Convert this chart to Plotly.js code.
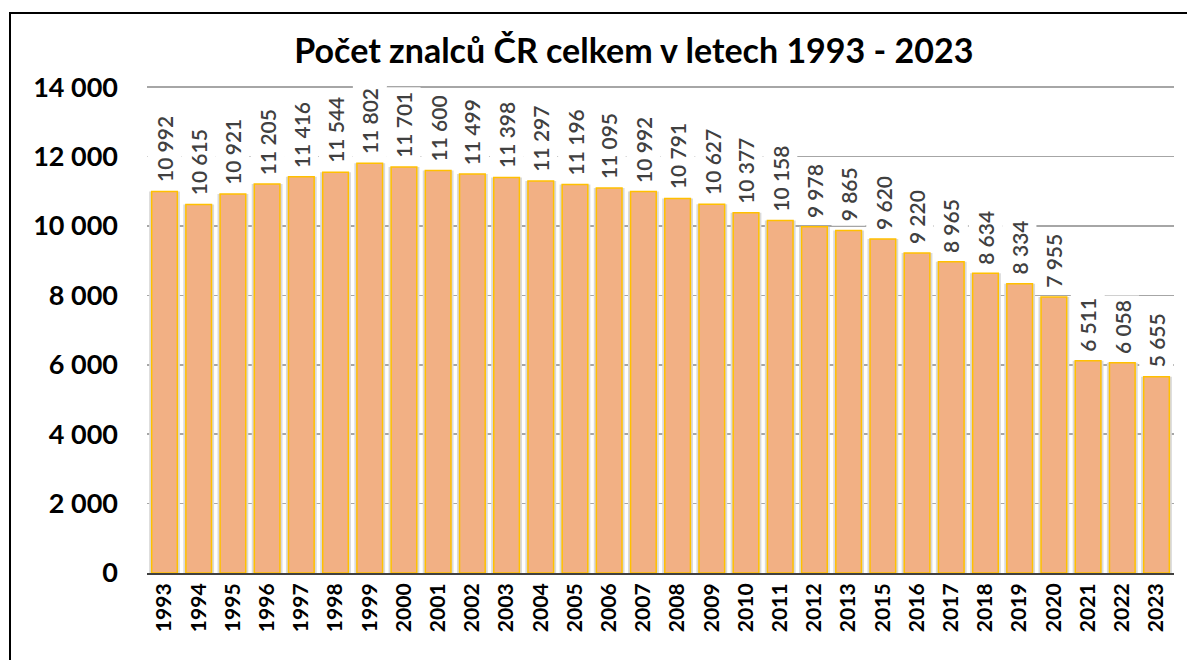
<!DOCTYPE html>
<html>
<head>
<meta charset="utf-8">
<script src="https://cdn.plot.ly/plotly-3.0.1.min.js"></script>
<style>
  body { margin: 0; background: #fff; }
  #plot { width: 1187px; height: 660px; }
  #frame {
    position: absolute; left: 9px; top: 12px; width: 1200px; height: 700px;
    border-left: 2px solid #000; border-top: 2px solid #000; pointer-events: none;
  }
</style>
</head>
<body>
<div id="plot"></div>
<div id="frame"></div>
<script>
// years in the chart (2014 is not in the source)
let years = ["1993", "1994", "1995", "1996", "1997", "1998", "1999", "2000", "2001", "2002",
    "2003", "2004", "2005", "2006", "2007", "2008", "2009", "2010", "2011", "2012",
    "2013", "2015", "2016", "2017", "2018", "2019", "2020", "2021", "2022", "2023"];

// numbers printed above the bars
let labelCounts = [10992, 10615, 10921, 11205, 11416, 11544, 11802, 11701, 11600, 11499,
    11398, 11297, 11196, 11095, 10992, 10791, 10627, 10377, 10158, 9978,
    9865, 9620, 9220, 8965, 8634, 8334, 7955, 6511, 6058, 5655];

// bar heights as drawn (the 2021 bar is drawn lower than its label says)
let barCounts = [10992, 10615, 10921, 11205, 11416, 11544, 11802, 11701, 11600, 11499,
    11398, 11297, 11196, 11095, 10992, 10791, 10627, 10377, 10158, 9978,
    9865, 9620, 9220, 8965, 8634, 8334, 7955, 6115, 6058, 5655];

// "10992" -> "10 992"
function fmt(n) {
    return String(n).replace(/\B(?=(\d{3})+(?!\d))/g, " ");
}

const FONT = "Lato, 'Open Sans', sans-serif";

// soft grey shadow behind the bars
let shadowTrace = {
    x: years,
    y: barCounts,
    type: "bar",
    width: 0.9,
    marker: { color: "#dadada", line: { width: 0 } },
    hoverinfo: "skip"
};

let barTrace = {
    x: years,
    y: barCounts,
    type: "bar",
    width: 0.75,
    marker: { color: "#F2B084", line: { color: "#FFC000", width: 1.5 } }
};

// data labels with a white box, so the gridlines disappear behind them
// (x is the category index, "1993" would be read as a number)
let labels = years.map((yr, i) => ({
    x: i,
    y: barCounts[i],
    text: fmt(labelCounts[i]),
    textangle: -90,
    showarrow: false,
    xanchor: "center",
    yanchor: "bottom",
    yshift: 4,
    bgcolor: "#ffffff",
    borderpad: 4,
    font: { family: FONT, size: 21, color: "#404040", weight: 600 }
}));

let layout = {
    width: 1187,
    height: 660,
    paper_bgcolor: "#ffffff",
    plot_bgcolor: "#ffffff",
    showlegend: false,
    barmode: "overlay",
    separators: ", ",
    margin: { l: 147, r: 13, t: 85, b: 87, pad: 0 },
    title: {
        text: "<b>Počet znalců ČR celkem v letech 1993 - 2023</b>",
        font: { family: FONT, size: 34, color: "#000" },
        x: 0.534,
        xanchor: "center",
        y: 0.922,
        yanchor: "middle"
    },
    xaxis: {
        type: "category",
        tickangle: -90,
        tickfont: { family: FONT, size: 21, color: "#000", weight: "bold" },
        showgrid: false,
        showline: true,
        linecolor: "#404040",
        linewidth: 2,
        ticks: ""
    },
    yaxis: {
        range: [0, 14060],
        dtick: 2000,
        tickformat: ",d",
        tickfont: { family: FONT, size: 27, color: "#000", weight: "bold" },
        showgrid: true,
        gridcolor: "#a6a6a6",
        gridwidth: 1.5,
        zeroline: false,
        showline: false,
        ticks: "",
        ticklabelstandoff: 28
    },
    annotations: labels
};

Plotly.newPlot("plot", [shadowTrace, barTrace], layout, { displayModeBar: false, staticPlot: true });
</script>
</body>
</html>
